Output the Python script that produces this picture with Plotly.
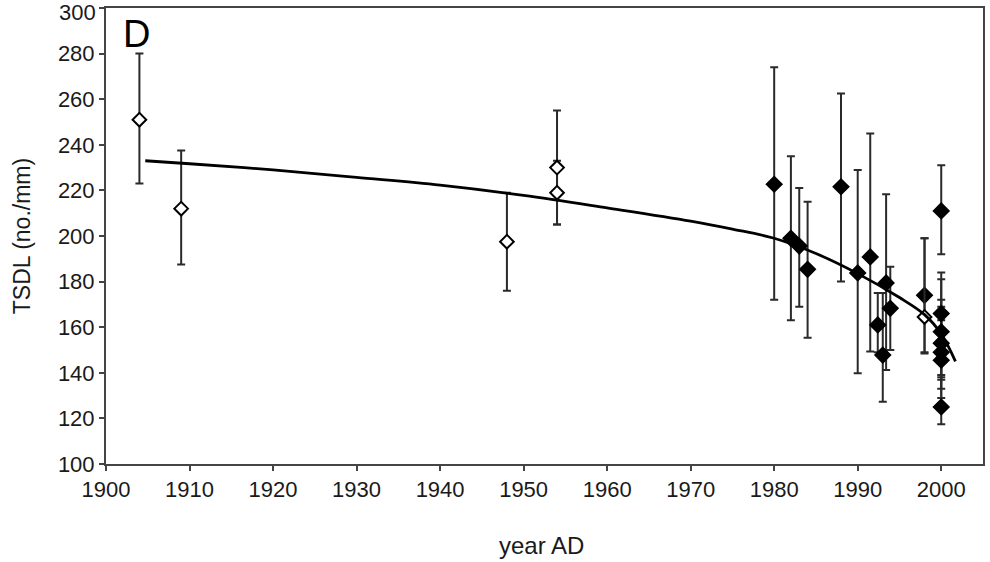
import plotly.graph_objects as go

# ---- data ----
open_year = [1904, 1909, 1948, 1954, 1954, 1998]
open_tsdl = [251, 212, 197.5, 230, 219, 164.5]
open_upper = [280, 237.5, 219, 255, 233, 199]
open_lower = [223, 187.5, 176, 205, 205, 149]

filled_year = [1980, 1982, 1983, 1984, 1988, 1990, 1991.5, 1992.4, 1993, 1993.4, 1993.9, 1998,
               2000, 2000, 2000, 2000, 2000, 2000, 2000]
filled_tsdl = [222.7, 199, 195.6, 185.4, 221.6, 183.8, 190.8, 161, 147.8, 179.4, 168.3, 174,
               211, 166, 158, 153, 149, 145.5, 125]
filled_upper = [274, 235, 221, 215, 262.5, 229, 245, 175, 175, 218.3, 186.5, 199,
                231, 184, 181, 172, 169, 163, 138]
filled_lower = [172, 163, 169, 155.4, 180, 139.8, 149.3, 149, 127.3, 141.2, 150, 148.5,
                192, 150, 139, 137, 133, 129, 117.4]

fit_year = [1904.7, 1910, 1920, 1930, 1940, 1950, 1960, 1970, 1975, 1980, 1985, 1990, 1995, 1998, 2000, 2001.7]
fit_tsdl = [233, 231.7, 229, 225.7, 222.3, 217.8, 212.3, 206.5, 203, 199, 192.3, 183.5, 173, 165.5, 157, 145]

x_ticks = [1900, 1910, 1920, 1930, 1940, 1950, 1960, 1970, 1980, 1990, 2000]
y_ticks = [100, 120, 140, 160, 180, 200, 220, 240, 260, 280, 300]

FONT = "Liberation Sans, Arial, sans-serif"
INK = "#1a1a1a"
TICK_SIZE = 22


def err(vals, up, lo):
    plus = [u - v for u, v in zip(up, vals)]
    minus = [v - l for v, l in zip(vals, lo)]
    return plus, minus


fig = go.Figure()

fp, fm = err(filled_tsdl, filled_upper, filled_lower)
fig.add_trace(go.Scatter(
    x=filled_year, y=filled_tsdl, mode="markers",
    marker=dict(symbol="diamond", size=12, color="black", line=dict(color="black", width=1.5)),
    error_y=dict(type="data", symmetric=False, array=fp, arrayminus=fm,
                 color="#2a2a2a", thickness=2, width=4),
    showlegend=False, cliponaxis=False,
))

op, om = err(open_tsdl, open_upper, open_lower)
fig.add_trace(go.Scatter(
    x=open_year, y=open_tsdl, mode="markers",
    marker=dict(symbol="diamond", size=10.5, color="white", line=dict(color="black", width=2)),
    error_y=dict(type="data", symmetric=False, array=op, arrayminus=om,
                 color="#2a2a2a", thickness=2, width=4),
    showlegend=False,
))

fig.add_trace(go.Scatter(
    x=fit_year, y=fit_tsdl, mode="lines",
    line=dict(color="black", width=2.8, shape="spline", smoothing=1.0),
    showlegend=False,
))

axis_common = dict(
    showgrid=False, zeroline=False, showline=True, linecolor="#444", linewidth=2,
    mirror=True, ticks="outside", ticklen=5, tickwidth=2, tickcolor="#444",
    tickfont=dict(family=FONT, size=TICK_SIZE, color=INK),
)

fig.update_xaxes(range=[1900, 2005], tickvals=x_ticks, ticktext=[str(v) for v in x_ticks], **axis_common)
fig.update_yaxes(range=[100, 300.001], tickvals=y_ticks, ticktext=[str(v) for v in y_ticks], **axis_common)

# the top tick label sits at the page edge, where Plotly drops it: draw it as text
fig.add_annotation(text=str(y_ticks[-1]), xref="paper", yref="y", x=0, y=y_ticks[-1],
                   xanchor="right", yanchor="middle", xshift=-8, yshift=-4, showarrow=False,
                   font=dict(family=FONT, size=TICK_SIZE, color=INK))

fig.add_annotation(text="year AD", xref="paper", yref="paper", x=(542 - 106) / 879, y=-(545 - 464) / 456,
                   xanchor="center", yanchor="middle", showarrow=False,
                   font=dict(family=FONT, size=24, color=INK))
fig.add_annotation(text="TSDL (no./mm)", xref="paper", yref="paper", x=(22 - 106) / 879, y=0.5,
                   xanchor="center", yanchor="middle", textangle=-90, showarrow=False,
                   font=dict(family=FONT, size=23, color=INK))
fig.add_annotation(text="D", xref="x", yref="y", x=1903.7, y=288.5,
                   xanchor="center", yanchor="middle", showarrow=False,
                   font=dict(family=FONT, size=38, color="black"))

fig.update_layout(
    width=990, height=562,
    margin=dict(l=106, r=5, t=8, b=98),
    paper_bgcolor="white", plot_bgcolor="white",
)

fig.write_html("out.html")
